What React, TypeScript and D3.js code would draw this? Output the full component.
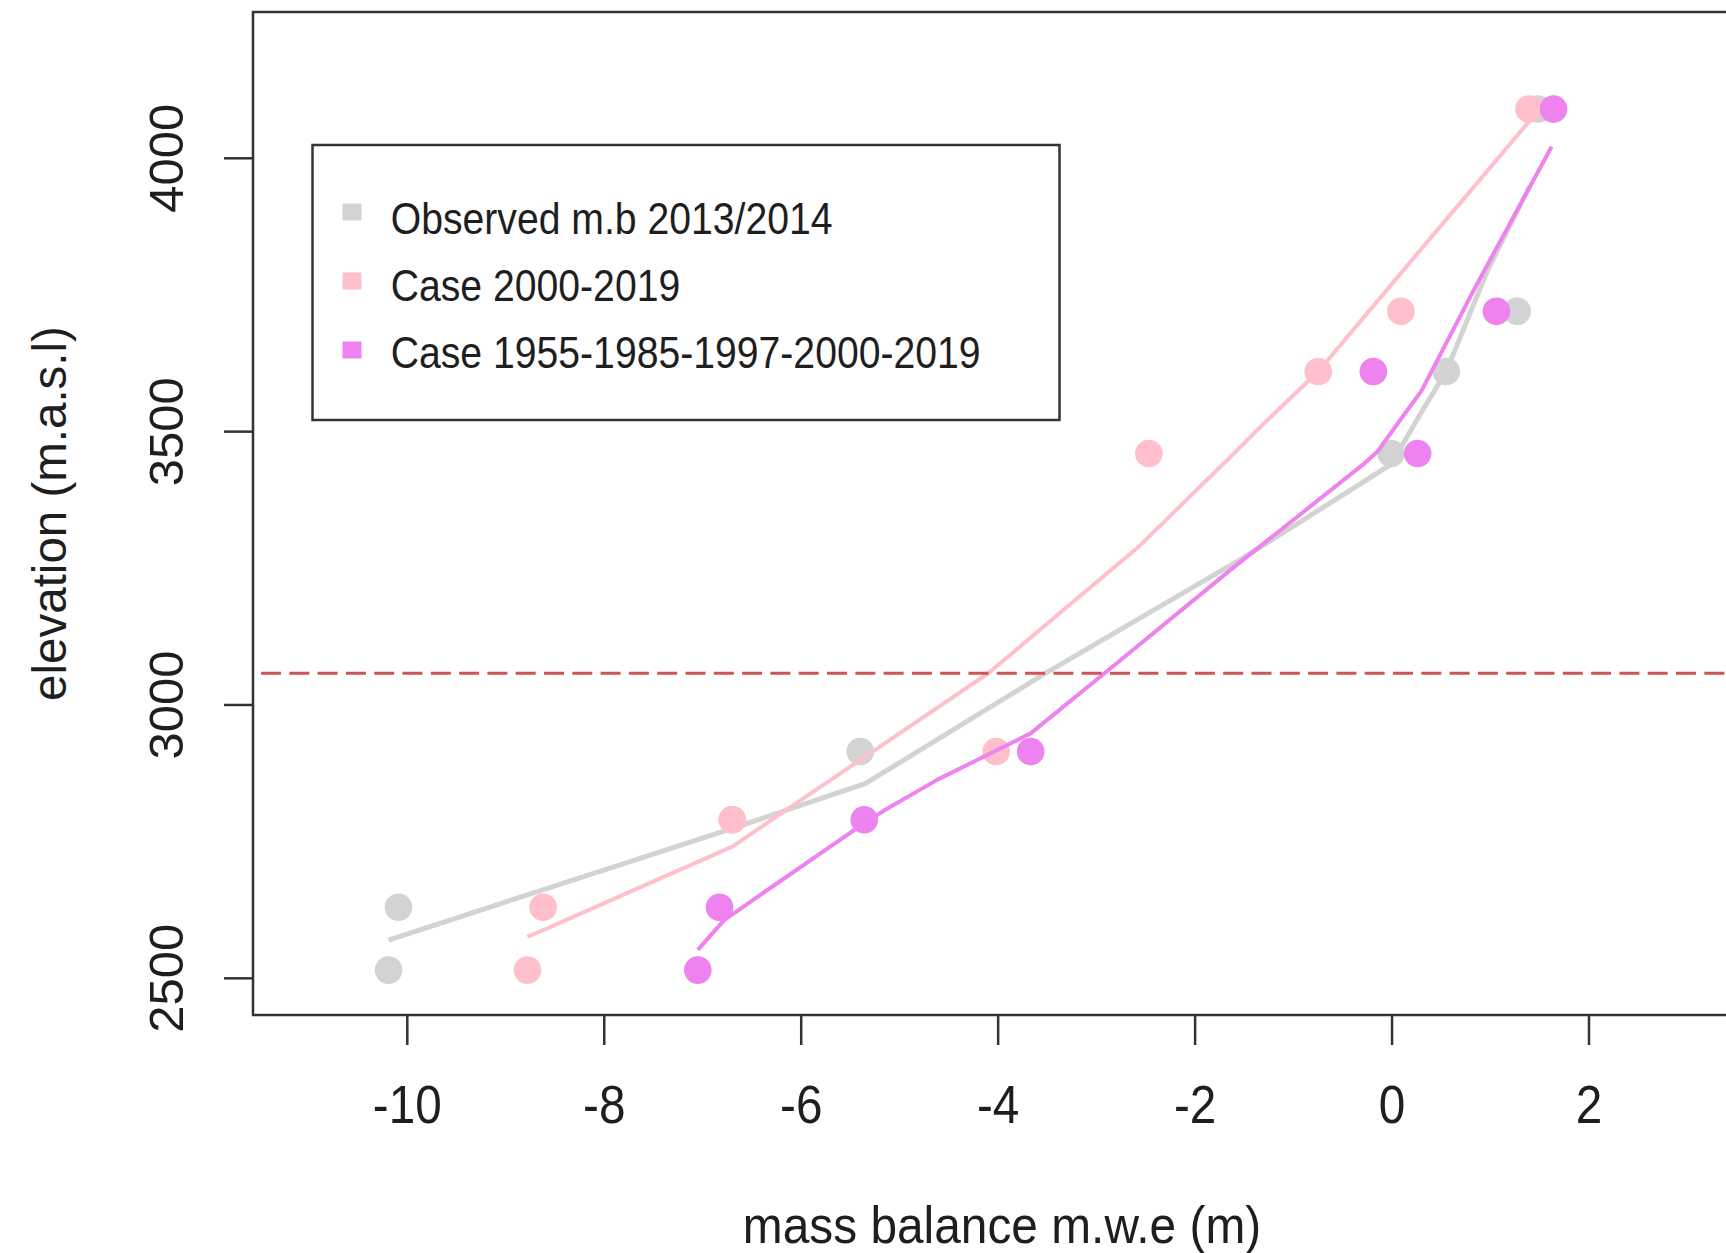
import React from 'react';
import * as d3 from 'd3';

// elevation bands (m a.s.l.) shared by all series
const ELEVATION = [2515, 2630, 2790, 2915, 3460, 3610, 3720, 4090];

// mass balance per band (m w.e.)
const OBSERVED_MB = [-10.19, -10.09, -6.7, -5.4, -0.01, 0.55, 1.27, 1.48];
const CASE_2000_MB = [-8.78, -8.62, -6.7, -4.02, -2.47, -0.75, 0.09, 1.39];
const CASE_MULTI_MB = [-7.05, -6.83, -5.36, -3.67, 0.26, -0.19, 1.06, 1.64];

// fitted profiles
const OBSERVED_FIT_MB = [-10.19, -10.09, -6.72, -5.35, -3.5, -1.52, -0.01, 0.29, 0.55, 0.97, 1.4];
const OBSERVED_FIT_ELEV = [2570, 2576, 2773, 2856, 3060, 3268, 3440, 3533, 3610, 3795, 3950];
const CASE_2000_FIT_MB = [-8.78, -8.62, -6.7, -4.1, -2.57, -1.64, -1.33, -0.75, 0.09, 1.39];
const CASE_2000_FIT_ELEV = [2576, 2588, 2741, 3058, 3290, 3454, 3510, 3610, 3790, 4067];
const CASE_MULTI_FIT_MB = [-7.05, -6.78, -5.36, -5.15, -4.62, -3.67, -2.92, -1.6, -0.28, -0.15, 0.07, 0.3, 0.83, 1.62];
const CASE_MULTI_FIT_ELEV = [2552, 2607, 2784, 2808, 2863, 2948, 3058, 3253, 3442, 3463, 3518, 3575, 3759, 4021];

const ELA = 3058;

const X_TICKS = [-10, -8, -6, -4, -2, 0, 2];
const Y_TICKS = [2500, 3000, 3500, 4000];

const LEGEND_LABELS = ['Observed m.b 2013/2014', 'Case 2000-2019', 'Case 1955-1985-1997-2000-2019'];
const SERIES_COLORS = ['#d3d3d3', '#ffc0cb', '#ee82ee'];

const WIDTH = 1726;
const HEIGHT = 1253;
const FONT = '"Liberation Sans", Arial, sans-serif';
const INK = '#1e1e1e';

export default function App() {
  const left = 253;
  const right = 1751;
  const top = 12;
  const bottom = 1015;

  const x = d3.scaleLinear().domain([-11.567, 3.645]).range([left, right]);
  const y = d3.scaleLinear().domain([2432.9, 4267.6]).range([bottom, top]);

  const line = d3
    .line<[number, number]>()
    .x(d => x(d[0]))
    .y(d => y(d[1]));

  const series = [
    { mb: OBSERVED_MB, fitMb: OBSERVED_FIT_MB, fitElev: OBSERVED_FIT_ELEV, width: 5 },
    { mb: CASE_2000_MB, fitMb: CASE_2000_FIT_MB, fitElev: CASE_2000_FIT_ELEV, width: 4 },
    { mb: CASE_MULTI_MB, fitMb: CASE_MULTI_FIT_MB, fitElev: CASE_MULTI_FIT_ELEV, width: 4 },
  ];

  const plotCenter = (left + right) / 2;

  return (
    <svg
      width={WIDTH}
      height={HEIGHT}
      style={{ position: 'absolute', left: 0, top: 0, background: '#fff' }}
      fontFamily={FONT}
    >
      <defs>
        <clipPath id="plot-area">
          <rect x={left} y={top} width={right - left} height={bottom - top} />
        </clipPath>
      </defs>

      <g clipPath="url(#plot-area)">
        {series.map((s, i) => (
          <g key={i}>
            {s.mb.map((v, j) => (
              <circle key={j} cx={x(v)} cy={y(ELEVATION[j])} r={13.8} fill={SERIES_COLORS[i]} />
            ))}
            <path
              d={line(s.fitMb.map((v, j) => [v, s.fitElev[j]] as [number, number])) || ''}
              fill="none"
              stroke={SERIES_COLORS[i]}
              strokeWidth={s.width}
              strokeLinejoin="round"
            />
          </g>
        ))}

        <line
          x1={left}
          x2={right}
          y1={y(ELA)}
          y2={y(ELA)}
          stroke="#cd5555"
          strokeWidth={3}
          strokeDasharray="20 8.3"
          strokeDashoffset={20.3}
        />
      </g>

      {/* plot frame */}
      <rect x={left} y={top} width={right - left} height={bottom - top} fill="none" stroke="#333" strokeWidth={2.5} />

      {/* x axis */}
      {X_TICKS.map(t => (
        <g key={t}>
          <line x1={x(t)} x2={x(t)} y1={bottom} y2={bottom + 30} stroke="#333" strokeWidth={2.5} />
          <text
            transform={`translate(${x(t)},1123) scale(0.9,1)`}
            textAnchor="middle"
            fontSize={53}
            fill={INK}
          >
            {t}
          </text>
        </g>
      ))}

      {/* y axis */}
      {Y_TICKS.map(t => (
        <g key={t}>
          <line x1={left - 29} x2={left} y1={y(t)} y2={y(t)} stroke="#333" strokeWidth={2.5} />
          <text
            transform={`translate(183,${y(t)}) rotate(-90)`}
            textAnchor="middle"
            fontSize={49}
            fill={INK}
          >
            {t}
          </text>
        </g>
      ))}

      <text
        transform={`translate(${plotCenter},1243) scale(0.92,1)`}
        textAnchor="middle"
        fontSize={52}
        fill={INK}
      >
        mass balance m.w.e (m)
      </text>
      <text
        transform={`translate(66,${(top + bottom) / 2}) rotate(-90)`}
        textAnchor="middle"
        fontSize={47.5}
        fill={INK}
      >
        elevation (m.a.s.l)
      </text>

      {/* legend */}
      <rect x={312.5} y={145} width={747} height={275} fill="#fff" stroke="#333" strokeWidth={2.5} />
      {LEGEND_LABELS.map((label, i) => (
        <g key={label}>
          <rect x={342.5} y={203.5 + i * 69} width={19} height={17} fill={SERIES_COLORS[i]} />
          <text
            transform={`translate(390.7,${234 + i * 67.2}) scale(0.89,1)`}
            fontSize={44}
            fill={INK}
          >
            {label}
          </text>
        </g>
      ))}
    </svg>
  );
}
